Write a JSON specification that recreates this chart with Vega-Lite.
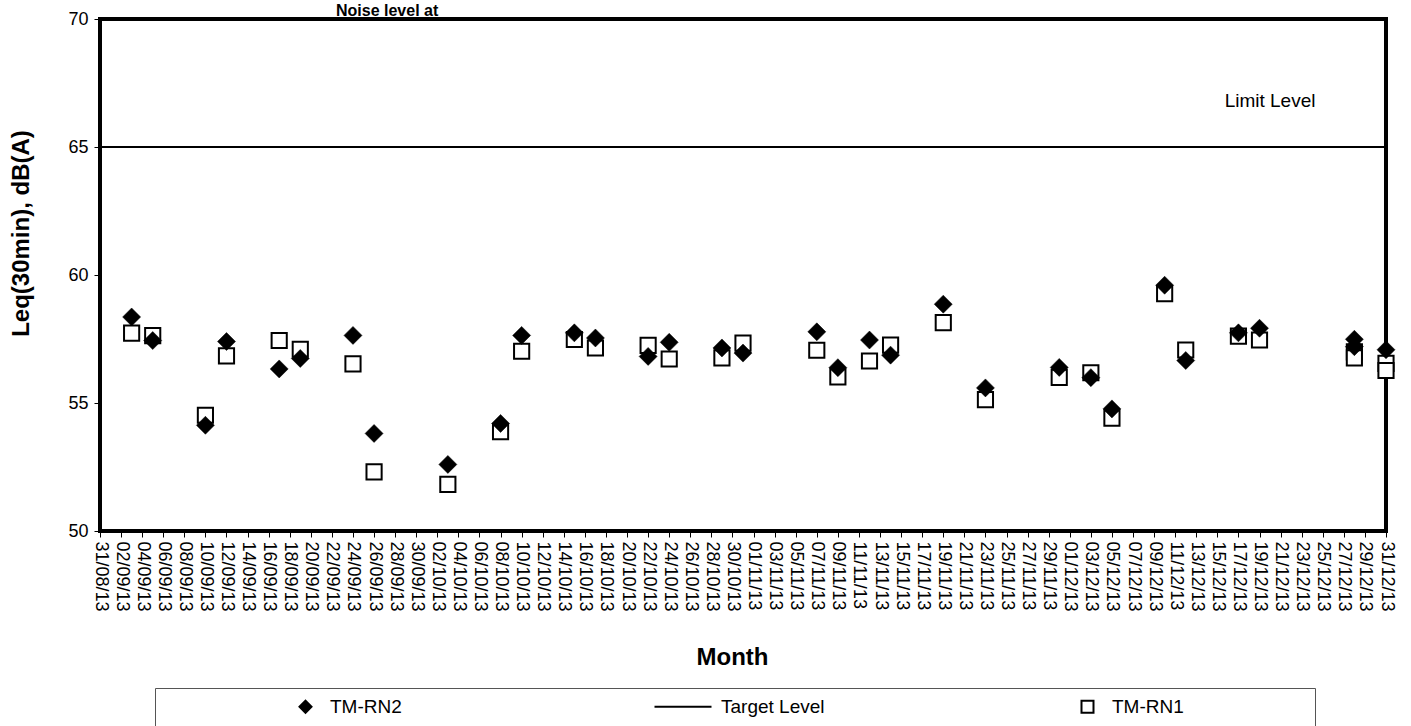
{
  "$schema": "https://vega.github.io/schema/vega-lite/v6.json",
  "width": 1286,
  "height": 512,
  "autosize": {"type": "none"},
  "padding": {"left": 100, "top": 19, "right": 25, "bottom": 195},
  "background": "white",
  "title": {"text": "Noise level at", "anchor": "start", "frame": "group", "dx": 236, "offset": -22, "baseline": "alphabetic", "font": "Liberation Sans", "fontSize": 16, "fontWeight": "bold", "color": "black"},
  "datasets": {
    "points": [
      {"date": "2013-09-03", "series": "TM-RN2", "value": 58.36},
      {"date": "2013-09-05", "series": "TM-RN2", "value": 57.44},
      {"date": "2013-09-10", "series": "TM-RN2", "value": 54.13},
      {"date": "2013-09-12", "series": "TM-RN2", "value": 57.40},
      {"date": "2013-09-17", "series": "TM-RN2", "value": 56.33},
      {"date": "2013-09-19", "series": "TM-RN2", "value": 56.74},
      {"date": "2013-09-24", "series": "TM-RN2", "value": 57.64},
      {"date": "2013-09-26", "series": "TM-RN2", "value": 53.81},
      {"date": "2013-10-03", "series": "TM-RN2", "value": 52.60},
      {"date": "2013-10-08", "series": "TM-RN2", "value": 54.20},
      {"date": "2013-10-10", "series": "TM-RN2", "value": 57.64},
      {"date": "2013-10-15", "series": "TM-RN2", "value": 57.74},
      {"date": "2013-10-17", "series": "TM-RN2", "value": 57.54},
      {"date": "2013-10-22", "series": "TM-RN2", "value": 56.82},
      {"date": "2013-10-24", "series": "TM-RN2", "value": 57.37},
      {"date": "2013-10-29", "series": "TM-RN2", "value": 57.15},
      {"date": "2013-10-31", "series": "TM-RN2", "value": 56.95},
      {"date": "2013-11-07", "series": "TM-RN2", "value": 57.78},
      {"date": "2013-11-09", "series": "TM-RN2", "value": 56.38},
      {"date": "2013-11-12", "series": "TM-RN2", "value": 57.46},
      {"date": "2013-11-14", "series": "TM-RN2", "value": 56.87},
      {"date": "2013-11-19", "series": "TM-RN2", "value": 58.86},
      {"date": "2013-11-23", "series": "TM-RN2", "value": 55.59},
      {"date": "2013-11-30", "series": "TM-RN2", "value": 56.39},
      {"date": "2013-12-03", "series": "TM-RN2", "value": 55.99},
      {"date": "2013-12-05", "series": "TM-RN2", "value": 54.77},
      {"date": "2013-12-10", "series": "TM-RN2", "value": 59.60},
      {"date": "2013-12-12", "series": "TM-RN2", "value": 56.66},
      {"date": "2013-12-17", "series": "TM-RN2", "value": 57.74},
      {"date": "2013-12-19", "series": "TM-RN2", "value": 57.92},
      {"date": "2013-12-28", "series": "TM-RN2", "value": 57.49},
      {"date": "2013-12-28", "series": "TM-RN2", "value": 57.20},
      {"date": "2013-12-31", "series": "TM-RN2", "value": 57.08},
      {"date": "2013-09-03", "series": "TM-RN1", "value": 57.73},
      {"date": "2013-09-05", "series": "TM-RN1", "value": 57.63},
      {"date": "2013-09-10", "series": "TM-RN1", "value": 54.52},
      {"date": "2013-09-12", "series": "TM-RN1", "value": 56.84},
      {"date": "2013-09-17", "series": "TM-RN1", "value": 57.44},
      {"date": "2013-09-19", "series": "TM-RN1", "value": 57.10},
      {"date": "2013-09-24", "series": "TM-RN1", "value": 56.53},
      {"date": "2013-09-26", "series": "TM-RN1", "value": 52.31},
      {"date": "2013-10-03", "series": "TM-RN1", "value": 51.82},
      {"date": "2013-10-08", "series": "TM-RN1", "value": 53.88},
      {"date": "2013-10-10", "series": "TM-RN1", "value": 57.02},
      {"date": "2013-10-15", "series": "TM-RN1", "value": 57.48},
      {"date": "2013-10-17", "series": "TM-RN1", "value": 57.15},
      {"date": "2013-10-22", "series": "TM-RN1", "value": 57.25},
      {"date": "2013-10-24", "series": "TM-RN1", "value": 56.72},
      {"date": "2013-10-29", "series": "TM-RN1", "value": 56.76},
      {"date": "2013-10-31", "series": "TM-RN1", "value": 57.34},
      {"date": "2013-11-07", "series": "TM-RN1", "value": 57.06},
      {"date": "2013-11-09", "series": "TM-RN1", "value": 56.02},
      {"date": "2013-11-12", "series": "TM-RN1", "value": 56.64},
      {"date": "2013-11-14", "series": "TM-RN1", "value": 57.26},
      {"date": "2013-11-19", "series": "TM-RN1", "value": 58.14},
      {"date": "2013-11-23", "series": "TM-RN1", "value": 55.13},
      {"date": "2013-11-30", "series": "TM-RN1", "value": 56.00},
      {"date": "2013-12-03", "series": "TM-RN1", "value": 56.18},
      {"date": "2013-12-05", "series": "TM-RN1", "value": 54.41},
      {"date": "2013-12-10", "series": "TM-RN1", "value": 59.27},
      {"date": "2013-12-12", "series": "TM-RN1", "value": 57.07},
      {"date": "2013-12-17", "series": "TM-RN1", "value": 57.61},
      {"date": "2013-12-19", "series": "TM-RN1", "value": 57.46},
      {"date": "2013-12-28", "series": "TM-RN1", "value": 57.00},
      {"date": "2013-12-28", "series": "TM-RN1", "value": 56.76},
      {"date": "2013-12-31", "series": "TM-RN1", "value": 56.55},
      {"date": "2013-12-31", "series": "TM-RN1", "value": 56.27}
    ],
    "target": [{"series": "Target Level", "value": 65}],
    "notes": [{"date": "2013-12-20", "value": 66.8, "label": "Limit Level"}]
  },
  "layer": [
    {
      "data": {"name": "target"},
      "mark": {"type": "rule", "color": "black", "strokeWidth": 2},
      "encoding": {
        "y": {"field": "value", "type": "quantitative", "scale": {"domain": [50, 70], "nice": false, "zero": false},
          "axis": {"values": [50, 55, 60, 65, 70], "title": "Leq(30min), dB(A)", "titleX": -67, "titleY": 214}}
      }
    },
    {
      "data": {"name": "points"},
      "transform": [{"filter": "datum.series === 'TM-RN1'"}],
      "mark": {"type": "point", "filled": true, "size": 230, "strokeWidth": 2, "opacity": 1},
      "encoding": {
        "x": {"field": "date", "type": "temporal", "timeUnit": "utcyearmonthdate",
          "scale": {"domain": [{"year": 2013, "month": 8, "date": 31, "utc": true}, {"year": 2013, "month": 12, "date": 31, "utc": true}], "nice": false},
          "axis": {"title": "Month", "titleX": 632, "titleY": 114, "format": "%d/%m/%y", "tickCount": 100, "labelOverlap": false, "labelAngle": 90, "labelFlush": false, "labelBound": false, "labelSeparation": 0,
            "values": [
              {"year": 2013, "month": 8, "date": 31, "utc": true},
              {"year": 2013, "month": 9, "date": 2, "utc": true},
              {"year": 2013, "month": 9, "date": 4, "utc": true},
              {"year": 2013, "month": 9, "date": 6, "utc": true},
              {"year": 2013, "month": 9, "date": 8, "utc": true},
              {"year": 2013, "month": 9, "date": 10, "utc": true},
              {"year": 2013, "month": 9, "date": 12, "utc": true},
              {"year": 2013, "month": 9, "date": 14, "utc": true},
              {"year": 2013, "month": 9, "date": 16, "utc": true},
              {"year": 2013, "month": 9, "date": 18, "utc": true},
              {"year": 2013, "month": 9, "date": 20, "utc": true},
              {"year": 2013, "month": 9, "date": 22, "utc": true},
              {"year": 2013, "month": 9, "date": 24, "utc": true},
              {"year": 2013, "month": 9, "date": 26, "utc": true},
              {"year": 2013, "month": 9, "date": 28, "utc": true},
              {"year": 2013, "month": 9, "date": 30, "utc": true},
              {"year": 2013, "month": 10, "date": 2, "utc": true},
              {"year": 2013, "month": 10, "date": 4, "utc": true},
              {"year": 2013, "month": 10, "date": 6, "utc": true},
              {"year": 2013, "month": 10, "date": 8, "utc": true},
              {"year": 2013, "month": 10, "date": 10, "utc": true},
              {"year": 2013, "month": 10, "date": 12, "utc": true},
              {"year": 2013, "month": 10, "date": 14, "utc": true},
              {"year": 2013, "month": 10, "date": 16, "utc": true},
              {"year": 2013, "month": 10, "date": 18, "utc": true},
              {"year": 2013, "month": 10, "date": 20, "utc": true},
              {"year": 2013, "month": 10, "date": 22, "utc": true},
              {"year": 2013, "month": 10, "date": 24, "utc": true},
              {"year": 2013, "month": 10, "date": 26, "utc": true},
              {"year": 2013, "month": 10, "date": 28, "utc": true},
              {"year": 2013, "month": 10, "date": 30, "utc": true},
              {"year": 2013, "month": 11, "date": 1, "utc": true},
              {"year": 2013, "month": 11, "date": 3, "utc": true},
              {"year": 2013, "month": 11, "date": 5, "utc": true},
              {"year": 2013, "month": 11, "date": 7, "utc": true},
              {"year": 2013, "month": 11, "date": 9, "utc": true},
              {"year": 2013, "month": 11, "date": 11, "utc": true},
              {"year": 2013, "month": 11, "date": 13, "utc": true},
              {"year": 2013, "month": 11, "date": 15, "utc": true},
              {"year": 2013, "month": 11, "date": 17, "utc": true},
              {"year": 2013, "month": 11, "date": 19, "utc": true},
              {"year": 2013, "month": 11, "date": 21, "utc": true},
              {"year": 2013, "month": 11, "date": 23, "utc": true},
              {"year": 2013, "month": 11, "date": 25, "utc": true},
              {"year": 2013, "month": 11, "date": 27, "utc": true},
              {"year": 2013, "month": 11, "date": 29, "utc": true},
              {"year": 2013, "month": 12, "date": 1, "utc": true},
              {"year": 2013, "month": 12, "date": 3, "utc": true},
              {"year": 2013, "month": 12, "date": 5, "utc": true},
              {"year": 2013, "month": 12, "date": 7, "utc": true},
              {"year": 2013, "month": 12, "date": 9, "utc": true},
              {"year": 2013, "month": 12, "date": 11, "utc": true},
              {"year": 2013, "month": 12, "date": 13, "utc": true},
              {"year": 2013, "month": 12, "date": 15, "utc": true},
              {"year": 2013, "month": 12, "date": 17, "utc": true},
              {"year": 2013, "month": 12, "date": 19, "utc": true},
              {"year": 2013, "month": 12, "date": 21, "utc": true},
              {"year": 2013, "month": 12, "date": 23, "utc": true},
              {"year": 2013, "month": 12, "date": 25, "utc": true},
              {"year": 2013, "month": 12, "date": 27, "utc": true},
              {"year": 2013, "month": 12, "date": 29, "utc": true},
              {"year": 2013, "month": 12, "date": 31, "utc": true}
            ]}},
        "y": {"field": "value", "type": "quantitative", "scale": {"domain": [50, 70], "nice": false, "zero": false}},
        "shape": {"field": "series", "type": "nominal", "title": " ",
          "scale": {"domain": ["TM-RN2", "Target Level", "TM-RN1"], "range": ["diamond", "M-7,0H2.5", "square"]},
          "legend": {"orient": "none", "legendX": 55, "legendY": 669}},
        "fill": {"field": "series", "type": "nominal", "title": " ",
          "scale": {"domain": ["TM-RN2", "Target Level", "TM-RN1"], "range": ["black", "black", "white"]},
          "legend": {"orient": "none", "legendX": 55, "legendY": 669}},
        "stroke": {"field": "series", "type": "nominal", "title": " ",
          "scale": {"domain": ["TM-RN2", "Target Level", "TM-RN1"], "range": ["black", "black", "black"]},
          "legend": {"orient": "none", "legendX": 55, "legendY": 669}}
      }
    },
    {
      "data": {"name": "points"},
      "transform": [{"filter": "datum.series === 'TM-RN2'"}],
      "mark": {"type": "point", "filled": true, "size": 324, "strokeWidth": 0.5, "opacity": 1},
      "encoding": {
        "x": {"field": "date", "type": "temporal", "timeUnit": "utcyearmonthdate",
          "scale": {"domain": [{"year": 2013, "month": 8, "date": 31, "utc": true}, {"year": 2013, "month": 12, "date": 31, "utc": true}], "nice": false}},
        "y": {"field": "value", "type": "quantitative", "scale": {"domain": [50, 70], "nice": false, "zero": false}},
        "shape": {"field": "series", "type": "nominal", "title": " ",
          "scale": {"domain": ["TM-RN2", "Target Level", "TM-RN1"], "range": ["diamond", "M-7,0H2.5", "square"]},
          "legend": {"orient": "none", "legendX": 55, "legendY": 669}},
        "fill": {"field": "series", "type": "nominal", "title": " ",
          "scale": {"domain": ["TM-RN2", "Target Level", "TM-RN1"], "range": ["black", "black", "white"]},
          "legend": {"orient": "none", "legendX": 55, "legendY": 669}},
        "stroke": {"field": "series", "type": "nominal", "title": " ",
          "scale": {"domain": ["TM-RN2", "Target Level", "TM-RN1"], "range": ["black", "black", "black"]},
          "legend": {"orient": "none", "legendX": 55, "legendY": 669}}
      }
    },
    {
      "data": {"name": "notes"},
      "mark": {"type": "text", "font": "Liberation Sans", "fontSize": 19, "color": "black", "align": "center", "baseline": "middle"},
      "encoding": {
        "x": {"field": "date", "type": "temporal", "timeUnit": "utcyearmonthdate",
          "scale": {"domain": [{"year": 2013, "month": 8, "date": 31, "utc": true}, {"year": 2013, "month": 12, "date": 31, "utc": true}], "nice": false}},
        "y": {"field": "value", "type": "quantitative", "scale": {"domain": [50, 70], "nice": false, "zero": false}},
        "text": {"field": "label"}
      }
    }
  ],
  "config": {
    "view": {"stroke": "black", "strokeWidth": 4},
    "axis": {"grid": false, "domain": false, "tickColor": "black", "tickSize": 6, "labelColor": "black", "labelFont": "Liberation Sans", "titleFont": "Liberation Sans", "titleFontWeight": "bold", "titleFontSize": 24, "titleColor": "black"},
    "axisY": {"labelFontSize": 18, "labelPadding": 6},
    "axisX": {"labelFontSize": 18, "labelAngle": 90, "labelAlign": "left", "labelBaseline": "middle", "labelOverlap": false, "labelFlush": false, "labelPadding": 4, "labelBound": false},
    "legend": {"direction": "horizontal", "columns": 3, "gridAlign": "all", "columnPadding": 121, "symbolOffset": 132, "labelOffset": 15, "padding": 9, "strokeColor": "#555", "symbolSize": 144, "symbolStrokeColor": "black", "symbolStrokeWidth": 2, "labelFont": "Liberation Sans", "labelFontSize": 19, "labelColor": "black", "labelLimit": 0, "titleOrient": "right", "titlePadding": 122, "titleFontSize": 10}
  }
}
